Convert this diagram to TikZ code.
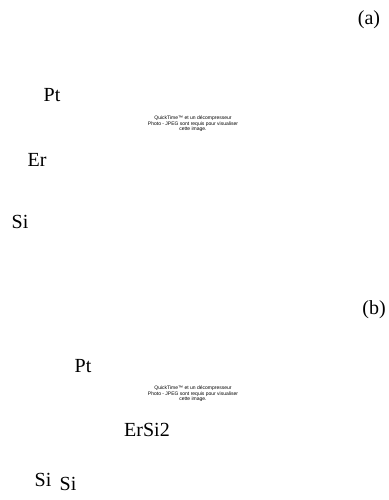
\documentclass[tikz,border=0pt]{standalone}
\usepackage{fontspec}
\setmainfont{Liberation Serif}
\newfontfamily\qtfont{Liberation Sans}
\begin{document}
\begin{tikzpicture}[x=1pt,y=-1pt,
  label/.style={font=\fontsize{20}{24}\selectfont, inner sep=0pt, anchor=base},
  placeholder/.style={font=\qtfont\fontsize{5}{5.4}\selectfont, align=center, inner sep=0pt}]
\useasboundingbox (0,0) rectangle (388,500);

% panel (a): Pt on Er on Si
\node[label] (tagA) at (369,25) {(a)};
\node[label] (ptA) at (52,102) {Pt};
\node[placeholder] (imgA) at (193,124) {QuickTime™ et un décompresseur\\Photo - JPEG sont requis pour visualiser\\cette image.};
\node[label] (erA) at (37,166) {Er};
\node[label] (siA) at (20,228) {Si};

% panel (b): Pt on ErSi2 on Si
\node[label] (tagB) at (374,314) {(b)};
\node[label] (ptB) at (83,372) {Pt};
\node[placeholder] (imgB) at (193,394) {QuickTime™ et un décompresseur\\Photo - JPEG sont requis pour visualiser\\cette image.};
\node[label] (ersi) at (147,436) {ErSi2};
\node[label] (siB1) at (43,486) {Si};
\node[label] (siB2) at (68,490) {Si};
\end{tikzpicture}
\end{document}
